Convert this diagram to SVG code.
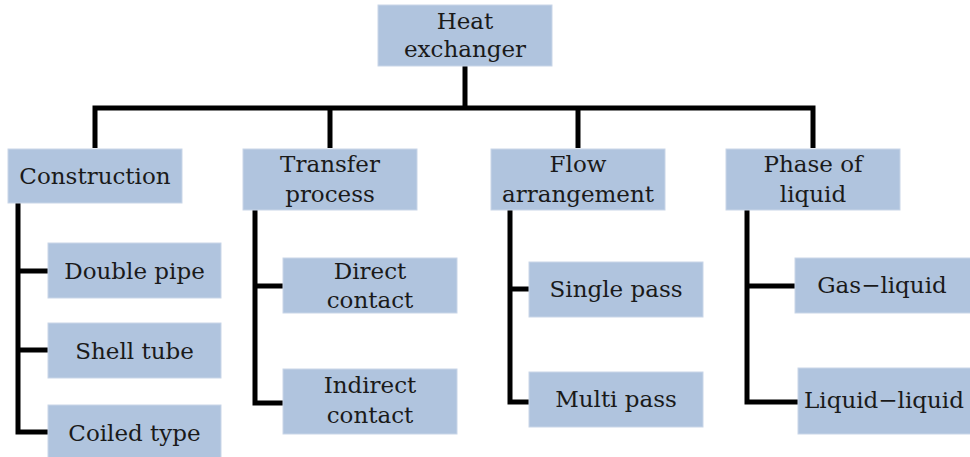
<svg xmlns="http://www.w3.org/2000/svg" width="970" height="457" viewBox="0 0 970 457">
<style>
.box{fill:#b0c4de;stroke:#c9d6e8;stroke-width:1}
.t{font-family:"DejaVu Serif","Liberation Serif",serif;font-size:23px;fill:#1a1a1a;text-anchor:middle}
.c{fill:none;stroke:#000;stroke-width:5;stroke-linejoin:miter;stroke-linecap:butt}
</style>
<rect width="970" height="457" fill="#fff"/>
<g id="connectors">
<path class="c" d="M465,66 V108"/>
<path class="c" d="M95,148 V108 H813 V148"/>
<path class="c" d="M330,108 V148"/>
<path class="c" d="M578,108 V148"/>
<path class="c" d="M18,203 V432 H48"/>
<path class="c" d="M18,271 H48 M18,350 H48"/>
<path class="c" d="M255,210 V403 H283"/>
<path class="c" d="M255,286 H283"/>
<path class="c" d="M510,210 V402 H529"/>
<path class="c" d="M510,289 H529"/>
<path class="c" d="M747,210 V402 H798"/>
<path class="c" d="M747,286 H795"/>
</g>
<g id="heat-exchanger"><rect class="box" x="378" y="5" width="174" height="61"/><text class="t" x="465" y="29">Heat</text><text class="t" x="465" y="57">exchanger</text></g>
<g id="construction"><rect class="box" x="8" y="149" width="174" height="54"/><text class="t" x="95" y="184">Construction</text></g>
<g id="transfer-process"><rect class="box" x="243" y="149" width="174" height="61"/><text class="t" x="330" y="172">Transfer</text><text class="t" x="330" y="202">process</text></g>
<g id="flow-arrangement"><rect class="box" x="491" y="149" width="174" height="61"/><text class="t" x="578" y="172">Flow</text><text class="t" x="578" y="202">arrangement</text></g>
<g id="phase-of-liquid"><rect class="box" x="726" y="149" width="174" height="61"/><text class="t" x="813" y="172">Phase of</text><text class="t" x="813" y="202">liquid</text></g>
<g id="double-pipe"><rect class="box" x="48" y="243" width="173" height="55"/><text class="t" x="134.5" y="279">Double pipe</text></g>
<g id="shell-tube"><rect class="box" x="48" y="323" width="173" height="55"/><text class="t" x="134.5" y="359">Shell tube</text></g>
<g id="coiled-type"><rect class="box" x="48" y="405" width="173" height="55"/><text class="t" x="134.5" y="441">Coiled type</text></g>
<g id="direct-contact"><rect class="box" x="283" y="258" width="174" height="55"/><text class="t" x="370" y="279">Direct</text><text class="t" x="370" y="308">contact</text></g>
<g id="indirect-contact"><rect class="box" x="283" y="369" width="174" height="65"/><text class="t" x="370" y="393">Indirect</text><text class="t" x="370" y="423">contact</text></g>
<g id="single-pass"><rect class="box" x="529" y="262" width="174" height="55"/><text class="t" x="616" y="297">Single pass</text></g>
<g id="multi-pass"><rect class="box" x="529" y="372" width="174" height="55"/><text class="t" x="616" y="407">Multi pass</text></g>
<g id="gas-liquid"><rect class="box" x="795" y="258" width="180" height="55"/><text class="t" x="882" y="293">Gas−liquid</text></g>
<g id="liquid-liquid"><rect class="box" x="798" y="368" width="177" height="66"/><text class="t" x="884" y="408">Liquid−liquid</text></g>
</svg>
